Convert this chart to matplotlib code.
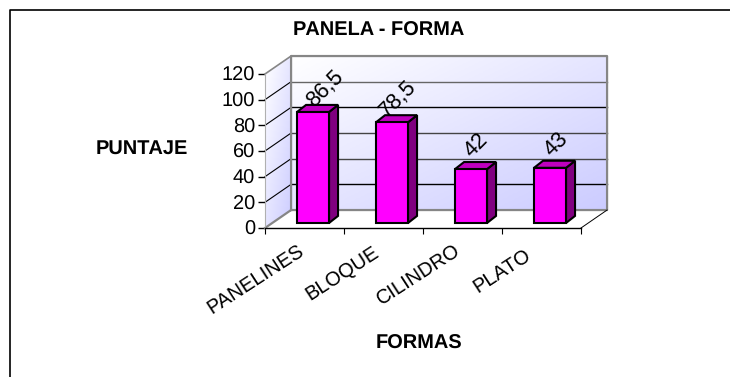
import numpy as np
import matplotlib
matplotlib.use('Agg')
import matplotlib.pyplot as plt
from matplotlib.patches import Polygon

plt.rcParams['font.family'] = ['Liberation Sans', 'DejaVu Sans']
plt.rcParams['text.hinting'] = 'no_hinting'
plt.rcParams['text.hinting_factor'] = 1

categories = ['PANELINES', 'BLOQUE', 'CILINDRO', 'PLATO']
values = [86.5, 78.5, 42, 43]
value_labels = ['86,5', '78,5', '42', '43']
y_ticks = [0, 20, 40, 60, 80, 100, 120]
grid_colors = ['black', '#444444', '#444444', 'black', '#666666']

W, H = 730, 377
# depth of the fake 3D box, in data units
wall_dx, wall_dy = 0.33, 14.0
bar_dx, bar_dy = 0.108, 3.9
depth_dx, depth_dy = 0.114, 5.5
bar_w = 0.405
# nudges for the slanted texts, in points
cat_shift_x = [-5, -8, -6, -12]
cat_shift_y = [-10, -11, -10, -13]
val_shift_x = [9, 4, 4, 4]

fig = plt.figure(figsize=(W / 100, H / 100), dpi=100)
ax = fig.add_axes([265 / W, 1 - 228 / H, 316 / W, 154 / H])
for s in ax.spines.values():
    s.set_visible(False)
ax.patch.set_visible(False)


def gradient_poly(pts, zorder=1):
    # blue-white diagonal fill clipped to the wall shape
    n = 64
    u, v = np.meshgrid(np.linspace(0, 1, n), np.linspace(0, 1, n))
    t = (u + (1 - v)) / 2
    img = np.ones((n, n, 3))
    img[..., 0] = 1 - t * 0.2
    img[..., 1] = 1 - t * 0.2
    xs = [p[0] for p in pts]
    ys = [p[1] for p in pts]
    im = ax.imshow(img, extent=[min(xs), max(xs), min(ys), max(ys)], origin='lower',
                   aspect='auto', zorder=zorder)
    poly = Polygon(pts, closed=True, transform=ax.transData, fill=False, edgecolor='none', clip_on=False)
    ax.add_patch(poly)
    im.set_clip_box(fig.bbox)
    im.set_clip_path(poly)


gradient_poly([(0, 0), (wall_dx, wall_dy), (wall_dx, 120 + wall_dy), (0, 120)])
gradient_poly([(wall_dx, wall_dy), (4 + wall_dx, wall_dy), (4 + wall_dx, 120 + wall_dy), (wall_dx, 120 + wall_dy)])
ax.set_xlim(0, 4)
ax.set_ylim(0, 120)

# gridlines run over the side wall and the back wall
for t, c in zip(y_ticks[1:-1], grid_colors):
    ax.plot([0, wall_dx], [t, t + wall_dy], color='black', lw=0.8, clip_on=False, zorder=2)
    ax.plot([wall_dx, 4 + wall_dx], [t + wall_dy, t + wall_dy], color=c, lw=1, clip_on=False, zorder=2)

wall_c = '#868686'
ax.plot([0, wall_dx, 4 + wall_dx, 4 + wall_dx, wall_dx, wall_dx],
        [0, wall_dy, wall_dy, 120 + wall_dy, 120 + wall_dy, wall_dy],
        color=wall_c, lw=1.6, clip_on=False, zorder=2)
ax.plot([0, wall_dx], [120, 120 + wall_dy], color=wall_c, lw=1.2, clip_on=False, zorder=2)
ax.plot([4, 4 + wall_dx], [0, wall_dy], color='black', lw=0.7, clip_on=False, zorder=2)

# front axis lines
ax.plot([0, 0], [0, 120], color='#b0b0b0', lw=0.8, clip_on=False, zorder=3)
ax.plot([0, 4], [0, 0], color='black', lw=1, clip_on=False, zorder=3)

ax.set_yticks(y_ticks)
ax.set_xticks(range(5))
ax.set_xticklabels([])
ax.tick_params(axis='y', length=5, width=1, labelsize=14.4, pad=2)
ax.tick_params(axis='x', length=4, width=0.8)

for i, (cat, val, lab) in enumerate(zip(categories, values, value_labels)):
    x0 = i + 0.5 - bar_w / 2 + bar_dx
    x1 = x0 + bar_w
    y0 = bar_dy
    y1 = val + bar_dy
    ec = dict(edgecolor='black', lw=1.5, joinstyle='miter', zorder=5, clip_on=False)
    ax.add_patch(Polygon([(x1, y0), (x1 + depth_dx, y0 + depth_dy), (x1 + depth_dx, y1 + depth_dy), (x1, y1)],
                         facecolor='#800080', **ec))
    ax.add_patch(Polygon([(x0, y1), (x0 + depth_dx, y1 + depth_dy), (x1 + depth_dx, y1 + depth_dy), (x1, y1)],
                         facecolor='#BF00BF', **ec))
    ax.add_patch(Polygon([(x0, y0), (x1, y0), (x1, y1), (x0, y1)], facecolor='#FF00FF', **ec))
    ax.annotate(lab, xy=((x0 + x1) / 2, y1), xytext=(val_shift_x[i], 17), textcoords='offset points', rotation=45,
                rotation_mode='anchor', ha='center', va='center', fontsize=15.5, zorder=6, annotation_clip=False)
    ax.annotate(cat, xy=(i + 0.5, 0), xytext=(cat_shift_x[i], cat_shift_y[i]), textcoords='offset points',
                rotation=33, rotation_mode='anchor', ha='right', va='top', fontsize=14.4, annotation_clip=False)

fig.text(379 / W, 1 - 30.5 / H, 'PANELA - FORMA', ha='center', va='center', fontsize=14.2, fontweight='bold')
fig.text(142 / W, 1 - 148.5 / H, 'PUNTAJE', ha='center', va='center', fontsize=14.2, fontweight='bold')
fig.text(419 / W, 1 - 343.5 / H, 'FORMAS', ha='center', va='center', fontsize=14.2, fontweight='bold')

# chart-area border, only the top and left edges fall inside the frame
fig.add_artist(plt.Line2D([10 / W, 10 / W, 1], [0, 1 - 10 / H, 1 - 10 / H], color='black', lw=1.2))

fig.savefig('out.png', dpi=100)
